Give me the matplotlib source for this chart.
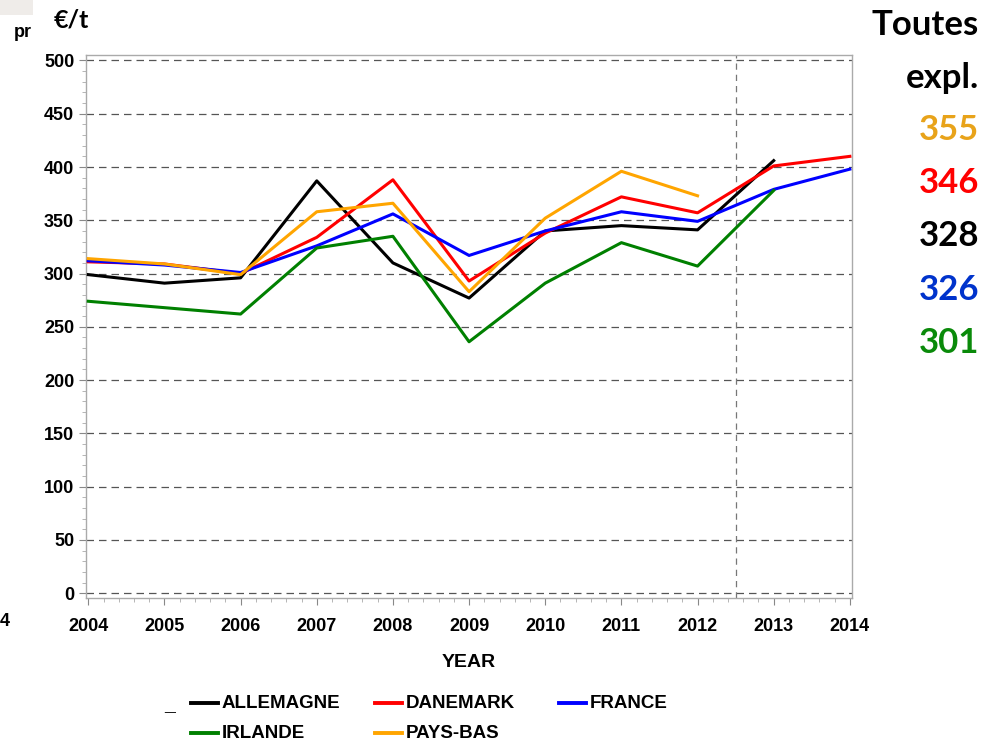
import matplotlib
matplotlib.use("Agg")
import matplotlib.pyplot as plt
from matplotlib.ticker import MultipleLocator
from matplotlib.lines import Line2D
from matplotlib.patches import Rectangle
import numpy as np

years = [2004, 2005, 2006, 2007, 2008, 2009, 2010, 2011, 2012, 2013, 2014]
allemagne = [299, 291, 296, 387, 310, 277, 340, 345, 341, 406, None]
danemark = [311, 309, 300, 334, 388, 293, 338, 372, 357, 401, 410]
france = [312, 308, 301, 326, 356, 317, 340, 358, 349, 379, 398]
irlande = [274, 268, 262, 324, 335, 236, 291, 329, 307, 378, None]
pays_bas = [314, 309, 299, 358, 366, 283, 352, 396, 373, None, None]

series_names = ["ALLEMAGNE", "DANEMARK", "FRANCE", "IRLANDE", "PAYS-BAS"]
series_vals = [allemagne, danemark, france, irlande, pays_bas]
series_colors = ["#000000", "#FF0000", "#0000FF", "#008000", "#FFA500"]

summary_vals = ["355", "346", "328", "326", "301"]
summary_colors = ["#E8A31A", "#FF0000", "#000000", "#0033CC", "#0A8A0A"]

cond = ["Liberation Sans", "DejaVu Sans"]
calib = ["Lato", "DejaVu Sans"]

fig = plt.figure(figsize=(9.84, 7.45), dpi=100)
fig.patches.append(Rectangle((0, 1 - 15 / 745), 33 / 984, 15 / 745, transform=fig.transFigure,
                             facecolor="#EFECE9", edgecolor="none"))
ax = fig.add_axes([0.0874, 0.197, 0.7786, 0.729])

for name, vals, col in zip(series_names, series_vals, series_colors):
    y = np.array([np.nan if v is None else v for v in vals], dtype=float)
    ax.plot(years, y, color=col, lw=2.2, label=name, zorder=3)

ax.yaxis.set_major_locator(MultipleLocator(50))
ax.yaxis.set_minor_locator(MultipleLocator(10))
ax.xaxis.set_minor_locator(MultipleLocator(0.2))
ax.grid(axis="y", which="major", ls=(0, (6, 4)), color="#555555", lw=0.9)
ax.axvline(2012.5, ls=(0, (5, 4)), color="#777777", lw=0.9)
for s in ax.spines.values():
    s.set_color("#AAAAAA")
    s.set_linewidth(1.0)
ax.tick_params(axis="both", which="major", length=5, color="#888888")
ax.tick_params(axis="both", which="minor", length=3, color="#AAAAAA")
ax.set_xticks(years)
ax.set_xticklabels([str(y) for y in years], family=cond, fontweight="bold", fontsize=13)
yt = list(range(0, 501, 50))
ax.set_yticks(yt)
ax.set_yticklabels([str(v) for v in yt], family=cond, fontweight="bold", fontsize=13)
ax.set_xlim(2003.97, 2014.03)
ax.set_ylim(-4.7, 505)
ax.tick_params(axis="x", pad=9)
ax.set_xlabel("YEAR", family=cond, fontweight="bold", fontsize=14, labelpad=14)

# legend, placed entry by entry
leg_x = [191, 375, 559]
leg_y = [703, 733]
order = [(0, 0, 0), (1, 1, 0), (2, 2, 0), (3, 0, 1), (4, 1, 1)]
for idx, col_i, row_i in order:
    x0 = leg_x[col_i] / 984
    yy = 1 - leg_y[row_i] / 745
    fig.lines.append(Line2D([x0, x0 + 27 / 984], [yy, yy], transform=fig.transFigure,
                            color=series_colors[idx], lw=2.8))
    fig.text(x0 + 31 / 984, yy, series_names[idx], family=cond, fontweight="bold",
             fontsize=13.5, ha="left", va="center")
fig.text(170 / 984, 1 - 707 / 745, "_", family=cond, fontweight="bold", fontsize=14,
         ha="center", va="center")

fig.text(0.055, 0.973, "€/t", family=calib, fontweight="bold", fontsize=18, ha="left", va="center")
fig.text(0.014, 0.957, "pr", family=cond, fontweight="bold", fontsize=13, ha="left", va="center")
fig.text(0.0, 0.166, "4", family=cond, fontweight="bold", fontsize=13, ha="left", va="center")

fig.text(0.995, 0.966, "Toutes", family=calib, fontweight="bold", fontsize=25, ha="right", va="center")
fig.text(0.995, 0.895, "expl.", family=calib, fontweight="bold", fontsize=25, ha="right", va="center")
for i, (v, c) in enumerate(zip(summary_vals, summary_colors)):
    fig.text(0.995, 0.825 - i * 0.0712, v, color=c, family=calib, fontweight="bold",
             fontsize=25, ha="right", va="center")

fig.savefig("out.png", dpi=100)
